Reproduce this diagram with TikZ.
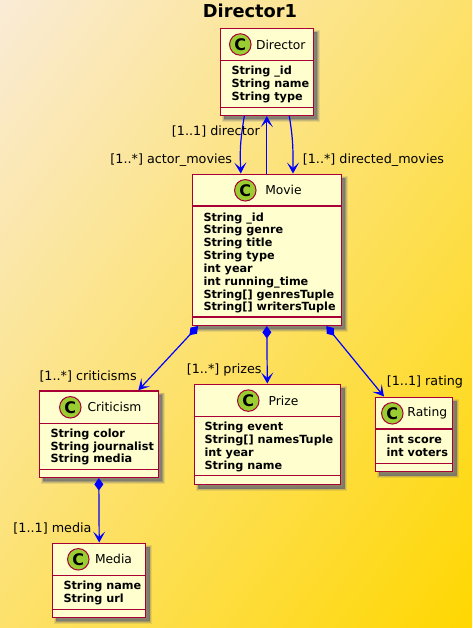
\documentclass[tikz,border=0pt]{standalone}
\usepackage{fontspec}
\setmainfont{DejaVu Sans}
\usetikzlibrary{arrows.meta,shadows,calc}
\definecolor{umlborder}{HTML}{A80036}
\definecolor{umlfill}{HTML}{FEFECE}
\definecolor{umlspot}{HTML}{9ACD32}
\definecolor{bgstart}{HTML}{FAEBD7}
\definecolor{bgend}{HTML}{FFD700}
\definecolor{umlshadow}{HTML}{707070}
\tikzset{
  x=1pt,y=-1pt,
  classbox/.style={rectangle,draw=umlborder,fill=umlfill,line width=1.5pt,inner sep=0pt,
    general shadow={shadow xshift=4pt,shadow yshift=-4pt,fill=umlshadow,draw=umlshadow,line width=5pt,opacity=.16},
    general shadow={shadow xshift=4pt,shadow yshift=-4pt,fill=umlshadow,draw=umlshadow,line width=3.2pt,opacity=.25},
    general shadow={shadow xshift=4pt,shadow yshift=-4pt,fill=umlshadow,draw=umlshadow,line width=1.5pt,opacity=.4},
    general shadow={shadow xshift=4pt,shadow yshift=-4pt,fill=umlshadow,draw=none,opacity=.5}},
  divider/.style={draw=umlborder,line width=1.5pt},
  spot/.style={circle,draw=umlborder,fill=umlspot,line width=1pt,minimum size=21.5pt,inner sep=0pt,
    font=\fontsize{16}{16}\bfseries,text=black},
  cname/.style={inner sep=0pt,font=\fontsize{12.3}{14}\selectfont,text=black},
  attrs/.style={inner sep=0pt,anchor=north west,align=left,font=\fontsize{11.25}{12.85}\bfseries,text=black},
  rolelabel/.style={inner sep=0pt,font=\fontsize{12.75}{14}\selectfont,text=black},
  conn/.style={draw=blue,line width=1.2pt,-{Stealth[length=11pt,width=12pt,inset=5.5pt,fill=blue]}},
  comp/.style={draw=blue,line width=1.2pt,{Diamond[length=12.5pt,width=9pt,fill=blue]}-{Stealth[length=11pt,width=12pt,inset=5.5pt,fill=blue]}},
}
\begin{document}
\begin{tikzpicture}
\useasboundingbox (0,0) rectangle (472,628);
\begin{scope}
  \clip (0,0) rectangle (472,628);
  \begin{scope}[transform canvas={rotate=-36.93}]
    \shade[left color=bgstart,right color=bgend,shading angle=90] (0,-900) rectangle (754.6,900);
  \end{scope}
\end{scope}

\node[inner sep=0pt,font=\fontsize{17.8}{20}\bfseries,text=black] (title) at (250,10.5) {Director1};

% Director
\node[classbox,minimum width=93pt,minimum height=87pt] (director) at (266.8,71.8) {};
\draw[divider] (director.west |- 0,60.7) -- (director.east |- 0,60.7);
\draw[divider] (director.west |- 0,107.3) -- (director.east |- 0,107.3);
\node[spot] (directorspot) at (240.3,44.5) {C};
\node[cname] (directorname) at (280.8,44.5) {Director};
\node[attrs] (directorattrs) at (231.3,66) {String \_id\\String name\\String type};

% Movie
\node[classbox,minimum width=149pt,minimum height=151pt] (movie) at (266.8,249.8) {};
\draw[divider] (movie.west |- 0,206) -- (movie.east |- 0,206);
\draw[divider] (movie.west |- 0,317) -- (movie.east |- 0,317);
\node[spot] (moviespot) at (245.3,190.3) {C};
\node[cname] (moviename) at (283.5,190.3) {Movie};
\node[attrs] (movieattrs) at (203.3,212.3) {String \_id\\String genre\\String title\\String type\\int year\\int running\_time\\String[] genresTuple\\String[] writersTuple};

% Criticism
\node[classbox,minimum width=119pt,minimum height=86.3pt] (criticism) at (98.8,434.2) {};
\draw[divider] (criticism.west |- 0,423.3) -- (criticism.east |- 0,423.3);
\draw[divider] (criticism.west |- 0,469.7) -- (criticism.east |- 0,469.7);
\node[spot] (criticismspot) at (70.3,407.3) {C};
\node[cname] (criticismname) at (114.5,407.3) {Criticism};
\node[attrs] (criticismattrs) at (50.3,428.5) {String color\\String journalist\\String media};

% Prize
\node[classbox,minimum width=146.4pt,minimum height=100.4pt] (prize) at (267.5,434.5) {};
\draw[divider] (prize.west |- 0,416.7) -- (prize.east |- 0,416.7);
\draw[divider] (prize.west |- 0,475.7) -- (prize.east |- 0,475.7);
\node[spot] (prizespot) at (248.3,400.6) {C};
\node[cname] (prizename) at (283.5,400.6) {Prize};
\node[attrs] (prizeattrs) at (204.3,422) {String event\\String[] namesTuple\\int year\\String name};

% Rating
\node[classbox,minimum width=77.4pt,minimum height=74.4pt] (rating) at (414,434.5) {};
\draw[divider] (rating.west |- 0,429) -- (rating.east |- 0,429);
\draw[divider] (rating.west |- 0,463.3) -- (rating.east |- 0,463.3);
\node[spot] (ratingspot) at (392.3,413.3) {C};
\node[cname] (ratingname) at (427.3,413.3) {Rating};
\node[attrs] (ratingattrs) at (386.3,434.5) {int score\\int voters};

% Media
\node[classbox,minimum width=93.4pt,minimum height=74pt] (media) at (99,580.3) {};
\draw[divider] (media.west |- 0,575.3) -- (media.east |- 0,575.3);
\draw[divider] (media.west |- 0,609.3) -- (media.east |- 0,609.3);
\node[spot] (mediaspot) at (78.3,559.3) {C};
\node[cname] (medianame) at (113.5,559.3) {Media};
\node[attrs] (mediaattrs) at (63.3,580.5) {String name\\String url};

% Connectors
\draw[conn] ([xshift=-22.5pt]director.south) .. controls +(-4,25) and +(-1,-25) .. ([xshift=-26pt]movie.north);
\draw[conn] (movie.north) -- (director.south);
\draw[conn] ([xshift=22.5pt]director.south) .. controls +(4,25) and +(0,-25) .. ([xshift=26.2pt]movie.north);
\draw[comp] ([xshift=-68.8pt]movie.south) -- ([xshift=39.5pt]criticism.north);
\draw[comp] (movie.south) -- ([xshift=-.2pt]prize.north);
\draw[comp] ([xshift=59.5pt]movie.south) -- ([xshift=-30pt]rating.north);
\draw[comp] (criticism.south) -- ([xshift=.2pt]media.north);

% Role labels
\node[rolelabel,anchor=east] (ldirector) at (260,131) {[1..1] director};
\node[rolelabel,anchor=east] (lactor) at (232.3,160) {[1..*] actor\_movies};
\node[rolelabel,anchor=west] (ldirected) at (302.7,160) {[1..*] directed\_movies};
\node[rolelabel,anchor=west] (lcriticisms) at (39.3,376.7) {[1..*] criticisms};
\node[rolelabel,anchor=east] (lprizes) at (261.7,370) {[1..*] prizes};
\node[rolelabel,anchor=west] (lrating) at (386.7,382) {[1..1] rating};
\node[rolelabel,anchor=east] (lmedia) at (91.7,528.7) {[1..1] media};
\end{tikzpicture}
\end{document}
